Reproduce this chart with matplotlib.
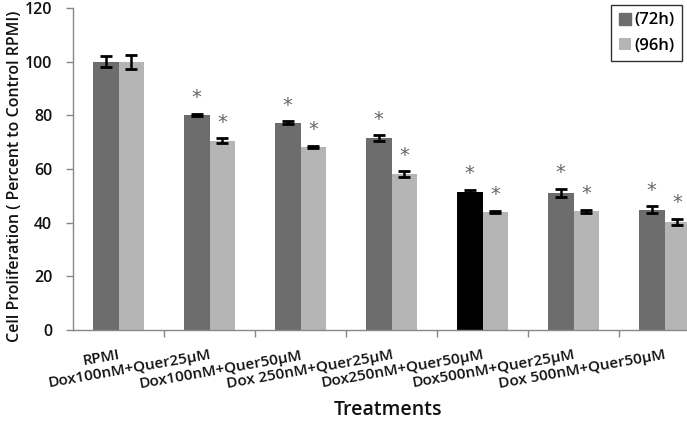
import matplotlib
matplotlib.use("Agg")
import matplotlib.pyplot as plt
import numpy as np

categories = ["RPMI", "Dox100nM+Quer25µM", "Dox100nM+Quer50µM", "Dox 250nM+Quer25µM",
              "Dox250nM+Quer50µM", "Dox500nM+Quer25µM", "Dox 500nM+Quer50µM"]
vals_72h = [100.0, 80.1, 77.3, 71.5, 51.6, 51.1, 44.8]
err_72h = [2.0, 0.4, 0.5, 1.0, 0.7, 1.5, 1.3]
vals_96h = [100.0, 70.5, 68.1, 58.1, 44.0, 44.2, 40.3]
err_96h = [2.6, 0.9, 0.4, 1.0, 0.3, 0.7, 1.0]
significant = [False, True, True, True, True, True, True]
series_names = ["(72h)", "(96h)"]
yticks = [0, 20, 40, 60, 80, 100, 120]

plt.rcParams['font.family'] = ['Open Sans', 'DejaVu Sans']
plt.rcParams['font.weight'] = 'semibold'

W, H = 687, 422
fig = plt.figure(figsize=(W / 100, H / 100), dpi=100)
ax = fig.add_axes([73 / W, (H - 330) / H, 637 / W, 322 / H])

dark = "#6d6d6d"
light = "#b5b5b5"
bw = 0.285
x = np.arange(len(categories))
colors_72 = [dark] * len(categories)
colors_72[4] = "#000000"

b1 = ax.bar(x - bw, vals_72h, width=bw, align='edge', color=colors_72, label=series_names[0])
b2 = ax.bar(x, vals_96h, width=bw, align='edge', color=light, label=series_names[1])
ax.errorbar(x - bw / 2, vals_72h, yerr=err_72h, fmt='none', ecolor='black', elinewidth=1.8,
            capsize=4, capthick=2)
ax.errorbar(x + bw / 2, vals_96h, yerr=err_96h, fmt='none', ecolor='black', elinewidth=1.8,
            capsize=4, capthick=2)

for i, s in enumerate(significant):
    if s:
        ax.text(x[i] - bw / 2, vals_72h[i] + err_72h[i] + 2.5, "*", ha='center', va='bottom',
                fontsize=14, color="#666666", family='DejaVu Sans', fontweight='normal')
        ax.text(x[i] + bw / 2, vals_96h[i] + err_96h[i] + 2.5, "*", ha='center', va='bottom',
                fontsize=14, color="#666666", family='DejaVu Sans', fontweight='normal')

ax.set_xlim(-0.5, len(categories) - 0.5)
ax.set_ylim(0, 120)
ax.set_yticks(yticks)
ax.set_yticklabels([str(t) for t in yticks], fontsize=11.5, color="#111111")
ax.tick_params(axis='y', length=5, width=1, color="#888888", pad=10)

ax.set_xticks(x)
ax.set_xticklabels(categories, rotation=10, ha='right', va='top', rotation_mode='anchor',
                   fontsize=11, color="#111111")
ax.tick_params(axis='x', which='major', length=0, pad=13)
ax.set_xticks(np.arange(len(categories)) + 0.5, minor=True)
ax.tick_params(axis='x', which='minor', length=5, width=1, color="#888888")

for side in ['top', 'right']:
    ax.spines[side].set_visible(False)
for side in ['left', 'bottom']:
    ax.spines[side].set_color("#888888")
    ax.spines[side].set_linewidth(1)

fig.text(15 / W, 1 - 176 / H, "Cell Proliferation ( Percent to Control RPMI)", rotation=90,
         ha='center', va='center', fontsize=11.5, color="#111111")
fig.text(388 / W, 1 - 410 / H, "Treatments", ha='center', va='center', fontsize=14,
         color="#111111")

leg = ax.legend(loc='upper right', bbox_to_anchor=(682 / W, 1 - 5 / H),
                bbox_transform=fig.transFigure, fontsize=12, frameon=True, fancybox=False,
                handlelength=0.75, handleheight=0.75, handletextpad=0.2, borderpad=0.45,
                labelspacing=0.55, borderaxespad=0)
leg.get_frame().set_edgecolor("black")
leg.get_frame().set_linewidth(1)
leg.legend_handles[0].set_color(dark)

fig.savefig("out.png", dpi=100)
